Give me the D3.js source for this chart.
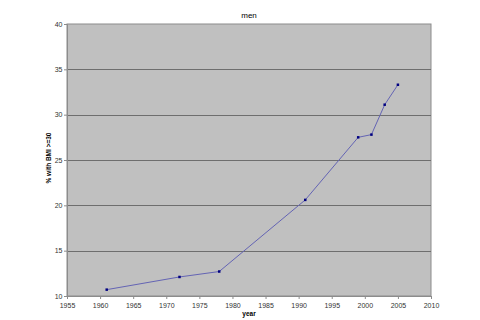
<!DOCTYPE html>
<html>
<head>
<meta charset="utf-8">
<script src="https://cdn.jsdelivr.net/npm/d3@7"></script>
<style>
  body { margin: 0; background: #fff; }
  svg { display: block; }
</style>
</head>
<body>
<svg id="chart"></svg>
<script>
const years = [1961, 1972, 1978, 1991, 1999, 2001, 2003, 2005]
const pct = [10.7, 12.1, 12.7, 20.6, 27.5, 27.8, 31.1, 33.3]
const xTicks = [1955, 1960, 1965, 1970, 1975, 1980, 1985, 1990, 1995, 2000, 2005, 2010]
const yTicks = [10, 15, 20, 25, 30, 35, 40]

const width = 480
const height = 320
const margin = {top: 24, right: 49, bottom: 24, left: 67}

const svg = d3.select("#chart")
    .attr("width", width)
    .attr("height", height)
    .style("font-family", "'Liberation Sans', Arial, sans-serif")

const x = d3.scaleLinear().domain([1955, 2010]).range([margin.left, width - margin.right])
const y = d3.scaleLinear().domain([10, 40]).range([height - margin.bottom, margin.top])

// plot area
svg.append("rect")
    .attr("x", x(1955))
    .attr("y", y(40))
    .attr("width", x(2010) - x(1955))
    .attr("height", y(10) - y(40))
    .attr("fill", "#c0c0c0")
    .attr("stroke", "#8c8c8c")
    .attr("stroke-width", 1)

// gridlines
svg.append("g")
    .selectAll("line")
    .data(yTicks.slice(1, -1))
    .join("line")
    .attr("x1", x(1955))
    .attr("x2", x(2010))
    .attr("y1", d => Math.round(y(d)) + 0.5)
    .attr("y2", d => Math.round(y(d)) + 0.5)
    .attr("stroke", "#6e6e6e")
    .attr("stroke-width", 1)

// axes
const xAxis = svg.append("g")
    .attr("transform", `translate(0,${y(10)})`)
    .call(d3.axisBottom(x).tickValues(xTicks).tickFormat(d3.format("d")).tickSize(3).tickPadding(4))
const yAxis = svg.append("g")
    .attr("transform", `translate(${x(1955)},0)`)
    .call(d3.axisLeft(y).tickValues(yTicks).tickSize(3).tickPadding(1.5))

for (const ax of [xAxis, yAxis]) {
    ax.select(".domain").attr("stroke", "#8c8c8c")
    ax.selectAll(".tick line").attr("stroke", "#8c8c8c")
    ax.selectAll(".tick text")
        .attr("fill", "#333")
        .attr("font-size", 7)
        .attr("font-family", "'Liberation Sans', Arial, sans-serif")
}

// series line
const line = d3.line()
    .x(d => x(d[0]))
    .y(d => y(d[1]))
const pts = years.map((yr, i) => [yr, pct[i]])

svg.append("path")
    .datum(pts)
    .attr("d", line)
    .attr("fill", "none")
    .attr("stroke", "#6464b4")
    .attr("stroke-width", 1)

svg.append("g")
    .selectAll("rect")
    .data(pts)
    .join("rect")
    .attr("x", d => x(d[0]) - 1.25)
    .attr("y", d => y(d[1]) - 1.25)
    .attr("width", 2.5)
    .attr("height", 2.5)
    .attr("fill", "#000080")

// titles
svg.append("text")
    .text("men")
    .attr("x", 249)
    .attr("y", 18)
    .attr("text-anchor", "middle")
    .attr("font-size", 8)
    .attr("fill", "#000")

svg.append("text")
    .text("year")
    .attr("x", 249)
    .attr("y", 316)
    .attr("text-anchor", "middle")
    .attr("font-size", 6.5)
    .attr("font-weight", "bold")
    .attr("fill", "#000")

svg.append("text")
    .text("% with BMI >=30")
    .attr("transform", "translate(51,158) rotate(-90)")
    .attr("text-anchor", "middle")
    .attr("font-size", 6.5)
    .attr("font-weight", "bold")
    .attr("fill", "#000")
</script>
</body>
</html>
